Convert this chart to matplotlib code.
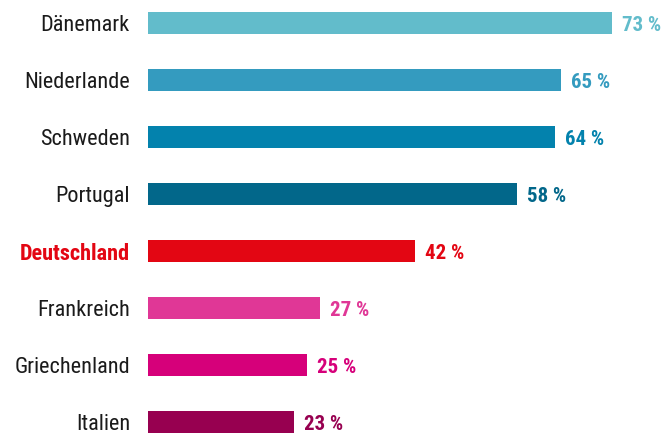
import matplotlib
matplotlib.use("Agg")
import matplotlib.pyplot as plt
from matplotlib import font_manager
from matplotlib.font_manager import FontProperties
import os

countries = ["Dänemark", "Niederlande", "Schweden", "Portugal", "Deutschland",
             "Frankreich", "Griechenland", "Italien"]
values = [73, 65, 64, 58, 42, 27, 25, 23]
colors = ["#62BCCB", "#349BBF", "#0382AD", "#02678A", "#E30613",
          "#E03796", "#D6007A", "#970050"]
value_labels = ["73 %", "65 %", "64 %", "58 %", "42 %",
                "27 %", "25 %", "23 %"]

allfiles = set(f.fname for f in font_manager.fontManager.ttflist) | set(font_manager.findSystemFonts())

def pick(bold):
    prefs = ["RobotoCondensed", "LiberationSansNarrow", "DejaVuSansCondensed",
             "OpenSansCondensed", "NotoSansCondensed", "BarlowCondensed"]
    for p in prefs:
        for f in sorted(allfiles):
            b = os.path.basename(f)
            key = b.lower().replace("_", "").replace("-", "").replace(" ", "")
            if p.lower() in key and "italic" not in key and "oblique" not in key:
                isbold = "Bold" in b and "SemiBold" not in b and "ExtraBold" not in b
                if bold and isbold:
                    return f
                if not bold and ("Regular" in b or key == p.lower() + ".ttf"):
                    return f
    return None

freg = pick(False)
fbold = pick(True)
preg = FontProperties(fname=freg) if freg else FontProperties(family="DejaVu Sans")
pbold = FontProperties(fname=fbold) if fbold else FontProperties(family="DejaVu Sans", weight="bold")

fig = plt.figure(figsize=(6.62, 4.35), dpi=100)
ax = fig.add_axes([148 / 662, 0, 514 / 662, 1])
y = list(range(len(countries)))
ax.barh(y, values, height=0.39, color=colors)
ax.set_xlim(0, 514 / 6.356)
ax.set_ylim(7.21, -0.421)
for s in ax.spines.values():
    s.set_visible(False)
ax.set_xticks([])
ax.set_yticks(y)
ax.set_yticklabels([])
ax.tick_params(axis="y", length=0)
for yi, c in zip(y, countries):
    fp = (pbold if c == "Deutschland" else preg).copy()
    fp.set_size(16)
    ax.text(-18 / 6.356, yi + 0.03, c, fontproperties=fp, ha="right", va="center",
            color="#E30613" if c == "Deutschland" else "#1a1a1a")
for yi, v, c, t in zip(y, values, colors, value_labels):
    fp = pbold.copy()
    fp.set_size(15)
    ax.text(v + 1.6, yi + 0.03, t, color=c, fontproperties=fp, va="center", ha="left")
fig.savefig("out.png", dpi=100)
